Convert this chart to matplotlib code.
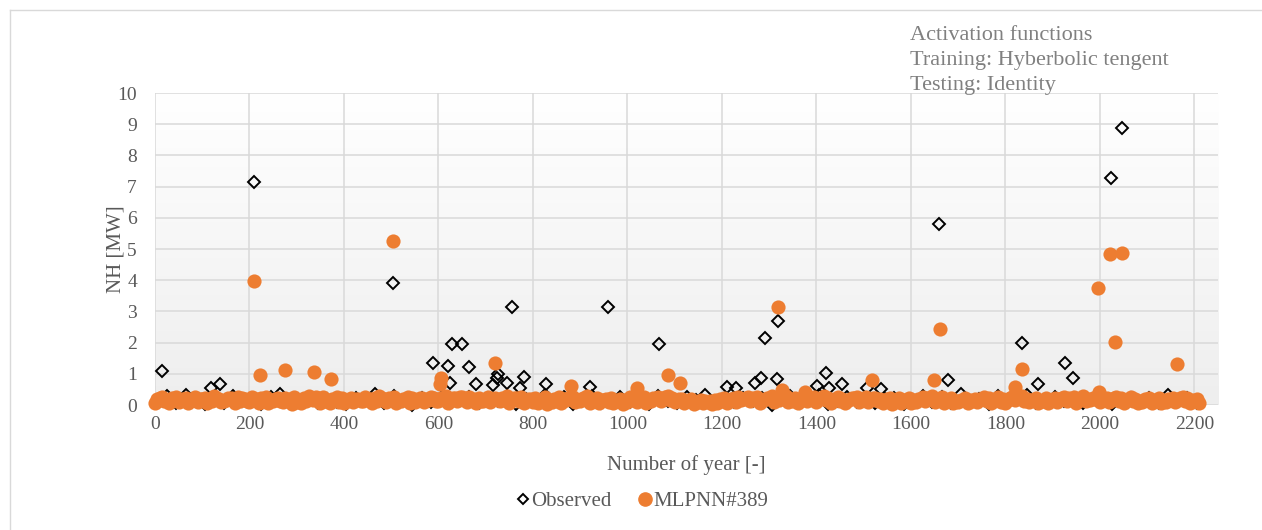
import numpy as np
import matplotlib
matplotlib.use("Agg")
import matplotlib.pyplot as plt
from matplotlib.lines import Line2D

# ---- DATA ----
# low values of the modelled series, one point every 10 years
mlp_base_x = np.arange(0, 2220, 10)
mlp_base_y = [
    0.05, 0.22, 0.12, 0.08, 0.18, 0.10, 0.20, 0.06, 0.15, 0.11,
    0.19, 0.07, 0.14, 0.21, 0.09, 0.16, 0.24, 0.05, 0.13, 0.18,
    0.10, 0.20, 0.08, 0.15, 0.06, 0.12, 0.22, 0.09, 0.17, 0.04,
    0.11, 0.07, 0.14, 0.19, 0.25, 0.08, 0.13, 0.05, 0.16, 0.10,
    0.06, 0.15, 0.09, 0.18, 0.12, 0.20, 0.07, 0.14, 0.23, 0.10,
    0.17, 0.08, 0.13, 0.19, 0.05, 0.11, 0.21, 0.09, 0.15, 0.24,
    0.12, 0.18, 0.07, 0.22, 0.14, 0.25, 0.10, 0.16, 0.06, 0.13,
    0.20, 0.09, 0.24, 0.12, 0.17, 0.08, 0.21, 0.14, 0.05, 0.18,
    0.11, 0.07, 0.16, 0.04, 0.09, 0.13, 0.06, 0.15, 0.20, 0.10,
    0.14, 0.22, 0.08, 0.12, 0.05, 0.17, 0.10, 0.06, 0.13, 0.03,
    0.09, 0.15, 0.11, 0.19, 0.07, 0.14, 0.23, 0.12, 0.25, 0.16,
    0.10, 0.20, 0.06, 0.13, 0.04, 0.09, 0.05, 0.11, 0.03, 0.08,
    0.14, 0.07, 0.18, 0.10, 0.16, 0.21, 0.12, 0.19, 0.08, 0.15,
    0.22, 0.11, 0.17, 0.26, 0.09, 0.14, 0.06, 0.20, 0.13, 0.18,
    0.10, 0.24, 0.15, 0.08, 0.19, 0.12, 0.06, 0.16, 0.22, 0.11,
    0.17, 0.09, 0.21, 0.13, 0.07, 0.18, 0.04, 0.12, 0.08, 0.15,
    0.06, 0.11, 0.19, 0.14, 0.23, 0.10, 0.17, 0.08, 0.12, 0.05,
    0.09, 0.16, 0.07, 0.13, 0.10, 0.20, 0.14, 0.06, 0.18, 0.11,
    0.08, 0.22, 0.15, 0.26, 0.12, 0.09, 0.17, 0.05, 0.13, 0.07,
    0.16, 0.10, 0.21, 0.13, 0.18, 0.08, 0.24, 0.12, 0.15, 0.20,
    0.11, 0.17, 0.09, 0.22, 0.14, 0.07, 0.19, 0.12, 0.05, 0.10,
    0.15, 0.08, 0.13, 0.06, 0.11, 0.17, 0.09, 0.21, 0.14, 0.07,
    0.12, 0.05,
]

# second set of low modelled values, between the ones above
mlp_mid_x = np.arange(5, 2215, 10)
mlp_mid_y = [
    0.18, 0.25, 0.14, 0.21, 0.27, 0.16, 0.23, 0.12, 0.26, 0.19,
    0.22, 0.15, 0.28, 0.20, 0.13, 0.24, 0.17, 0.26, 0.21, 0.14,
    0.25, 0.18, 0.22, 0.27, 0.16, 0.20, 0.13, 0.24, 0.19, 0.26,
    0.15, 0.23, 0.28, 0.17, 0.21, 0.25, 0.12, 0.19, 0.27, 0.22,
    0.16, 0.24, 0.20, 0.14, 0.26, 0.18, 0.23, 0.28, 0.15, 0.21,
    0.25, 0.13, 0.19, 0.27, 0.22, 0.17, 0.24, 0.20, 0.26, 0.14,
    0.23, 0.28, 0.18, 0.21, 0.25, 0.16, 0.27, 0.19, 0.22, 0.13,
    0.26, 0.20, 0.15, 0.24, 0.28, 0.17, 0.21, 0.25, 0.12, 0.19,
    0.23, 0.16, 0.27, 0.14, 0.20, 0.25, 0.18, 0.22, 0.26, 0.15,
    0.21, 0.28, 0.13, 0.24, 0.17, 0.19, 0.23, 0.12, 0.20, 0.15,
    0.26, 0.18, 0.22, 0.27, 0.14, 0.21, 0.25, 0.19, 0.28, 0.23,
    0.16, 0.20, 0.13, 0.18, 0.11, 0.17, 0.14, 0.12, 0.16, 0.19,
    0.24, 0.15, 0.22, 0.27, 0.18, 0.25, 0.21, 0.26, 0.17, 0.23,
    0.28, 0.20, 0.24, 0.29, 0.16, 0.22, 0.19, 0.27, 0.21, 0.25,
    0.18, 0.28, 0.23, 0.15, 0.26, 0.20, 0.17, 0.24, 0.27, 0.19,
    0.25, 0.16, 0.22, 0.20, 0.14, 0.23, 0.13, 0.21, 0.17, 0.24,
    0.15, 0.19, 0.26, 0.22, 0.28, 0.18, 0.25, 0.16, 0.21, 0.14,
    0.17, 0.23, 0.15, 0.20, 0.18, 0.26, 0.22, 0.14, 0.25, 0.19,
    0.16, 0.27, 0.23, 0.29, 0.20, 0.17, 0.24, 0.13, 0.21, 0.15,
    0.23, 0.18, 0.27, 0.21, 0.25, 0.16, 0.28, 0.20, 0.23, 0.26,
    0.19, 0.24, 0.17, 0.27, 0.22, 0.15, 0.25, 0.20, 0.13, 0.18,
    0.22, 0.16, 0.21, 0.14, 0.19, 0.24, 0.17, 0.26, 0.21, 0.15,
    0.18,
]

# low values of the observed series, one point every 20 years
obs_base_x = np.arange(5, 2220, 20)
obs_base_y = [
    0.10, 0.28, 0.05, 0.33, 0.15, 0.02, 0.22, 0.08, 0.30, 0.12,
    0.18, 0.04, 0.26, 0.35, 0.09, 0.14, 0.21, 0.06, 0.20, 0.11,
    0.03, 0.24, 0.16, 0.34, 0.07, 0.29, 0.13, 0.01, 0.21, 0.10,
    0.22, 0.05, 0.17, 0.27, 0.08, 0.23, 0.12, 0.30, 0.04, 0.19,
    0.14, 0.33, 0.09, 0.25, 0.02, 0.18, 0.28, 0.06, 0.15, 0.25,
    0.11, 0.22, 0.03, 0.30, 0.13, 0.07, 0.26, 0.17, 0.32, 0.05,
    0.20, 0.09, 0.24, 0.12, 0.24, 0.01, 0.16, 0.29, 0.08, 0.21,
    0.31, 0.04, 0.14, 0.27, 0.10, 0.23, 0.06, 0.19, 0.23, 0.02,
    0.15, 0.30, 0.11, 0.25, 0.07, 0.35, 0.13, 0.18, 0.03, 0.28,
    0.09, 0.22, 0.32, 0.05, 0.16, 0.26, 0.12, 0.24, 0.08, 0.20,
    0.29, 0.04, 0.17, 0.21, 0.10, 0.24, 0.06, 0.33, 0.14, 0.21,
    0.07,
]

# larger observed values
obs_peak_x = [14, 118, 137, 209, 503, 588, 620, 624, 628, 649, 664, 679, 715,
              723, 725, 746, 755, 772, 782, 827, 920, 958, 1066, 1211, 1230,
              1270, 1283, 1292, 1317, 1319, 1402, 1420, 1427, 1455, 1508, 1537,
              1660, 1679, 1835, 1869, 1926, 1943, 2023, 2047]
obs_peak_y = [1.10, 0.55, 0.68, 7.15, 3.90, 1.36, 1.24, 0.70, 1.97, 1.97, 1.21,
              0.68, 0.64, 0.87, 1.00, 0.70, 3.14, 0.55, 0.90, 0.68, 0.58, 3.13,
              1.97, 0.57, 0.55, 0.70, 0.85, 2.15, 0.83, 2.68, 0.60, 1.02, 0.55,
              0.66, 0.55, 0.50, 5.80, 0.80, 1.98, 0.68, 1.36, 0.88, 7.27, 8.88]

# larger modelled values
mlp_peak_x = [209, 222, 275, 337, 372, 503, 603, 605, 719, 881, 1021, 1085, 1112,
              1319, 1328, 1376, 1518, 1649, 1662, 1821, 1835, 1996, 1998, 2021,
              2032, 2047, 2163]
mlp_peak_y = [3.96, 0.96, 1.12, 1.07, 0.84, 5.26, 0.67, 0.87, 1.34, 0.60, 0.54,
              0.96, 0.70, 3.14, 0.48, 0.42, 0.80, 0.80, 2.44, 0.58, 1.15, 3.75,
              0.42, 4.84, 2.02, 4.87, 1.31]

x_ticks = [0, 200, 400, 600, 800, 1000, 1200, 1400, 1600, 1800, 2000, 2200]
y_ticks = [0, 1, 2, 3, 4, 5, 6, 7, 8, 9, 10]

ORANGE = '#ED7D31'
TXT = '#595959'
GRID = '#d9d9d9'

plt.rcParams['font.family'] = ['Liberation Serif', 'DejaVu Serif']

W, H = 1262, 530
fig = plt.figure(figsize=(W / 100, H / 100), dpi=100)
ax = fig.add_axes([155 / W, 1 - 405 / H, (1218 - 155) / W, (405 - 93) / H])

# soft vertical gradient behind the plot area
grad = np.linspace(0, 1, 256).reshape(-1, 1)
ax.imshow(grad, extent=[0, 1, 0, 1], transform=ax.transAxes, aspect='auto',
          cmap=matplotlib.colors.LinearSegmentedColormap.from_list('bg', ['#eeeeee', '#ffffff']),
          origin='lower', zorder=0)

# observed series first, model on top
ox = np.concatenate([obs_base_x, obs_peak_x])
oy = np.concatenate([obs_base_y, obs_peak_y])
ax.plot(ox, oy, linestyle='none', marker='D', markersize=6.3, markerfacecolor='none',
        markeredgecolor='black', markeredgewidth=1.4, clip_on=False, zorder=3)

mx = np.concatenate([mlp_base_x, mlp_mid_x, mlp_peak_x])
my = np.concatenate([mlp_base_y, mlp_mid_y, mlp_peak_y])
ax.plot(mx, my, linestyle='none', marker='o', markersize=10.2, markerfacecolor=ORANGE,
        markeredgecolor=ORANGE, markeredgewidth=0, clip_on=False, zorder=4)

ax.set_xlim(0, 2250)
ax.set_ylim(0, 10)
ax.set_xticks(x_ticks)
ax.set_yticks(y_ticks)
ax.grid(True, color=GRID, linewidth=1.1)
ax.set_axisbelow(True)
for s in ax.spines.values():
    s.set_visible(False)
ax.tick_params(axis='both', length=0, labelsize=14, labelcolor=TXT)
ax.tick_params(axis='x', pad=8)
ax.tick_params(axis='y', pad=13)

ax.set_xlabel('Number of year [-]', fontsize=15, color=TXT, labelpad=16)
ax.set_ylabel('NH [MW]', fontsize=15, color=TXT, labelpad=-6)

# activation note, top right
note = ['Activation functions', 'Training: Hyberbolic tengent', 'Testing: Identity']
for i, line in enumerate(note):
    fig.text(910 / W, 1 - (40 + 25 * i) / H, line, fontsize=16, color='#808080',
             va='baseline', ha='left')

# legend below
handles = [
    Line2D([], [], linestyle='none', marker='D', markersize=5.5, markerfacecolor='none',
           markeredgecolor='black', markeredgewidth=1.4, label='Observed'),
    Line2D([], [], linestyle='none', marker='o', markersize=9.5, markerfacecolor=ORANGE,
           markeredgecolor=ORANGE, label='MLPNN#389'),
]
fig.legend(handles=handles, loc='center', bbox_to_anchor=(642 / W, 1 - 501 / H), ncol=2,
           frameon=False, fontsize=15, labelcolor=TXT, handlelength=0.6,
           handletextpad=0.1, columnspacing=1.3)

# chart area border
fig.add_artist(Line2D([10 / W, 10 / W], [0, 1 - 10 / H], color=GRID, linewidth=1))
fig.add_artist(Line2D([10 / W, 1], [1 - 10 / H, 1 - 10 / H], color=GRID, linewidth=1))

fig.savefig('out.png', dpi=100)
